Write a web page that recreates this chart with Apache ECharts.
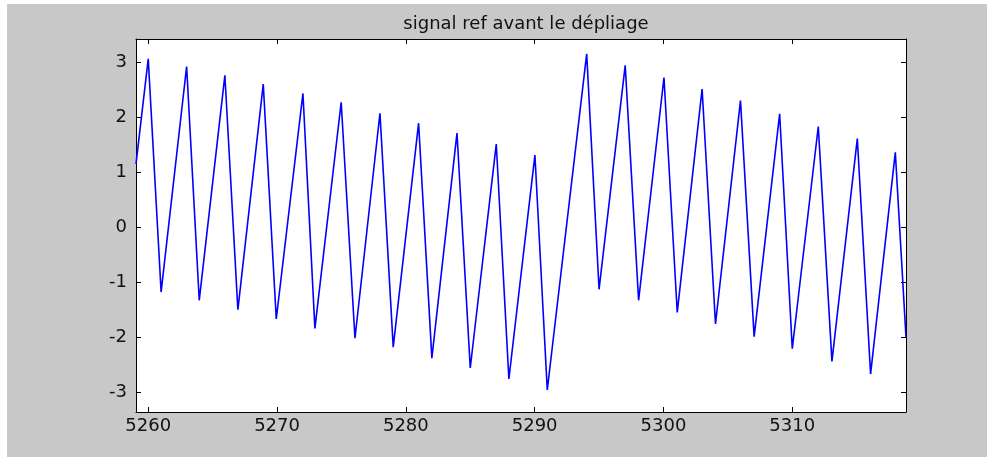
<!DOCTYPE html>
<html>
<head>
<meta charset="utf-8">
<script src="https://cdn.jsdelivr.net/npm/echarts@6/dist/echarts.min.js"></script>
<style>
  html, body { margin: 0; padding: 0; background: #fff; }
  #wrap { position: relative; width: 987px; height: 458px; background: #fff; }
  #panel { position: absolute; left: 7px; top: 4px; width: 980px; height: 453px; background: #c8c8c8; }
  #chart { position: absolute; left: 0; top: 0; width: 987px; height: 458px; }
</style>
</head>
<body>
<div id="wrap">
  <div id="panel"></div>
  <div id="chart"></div>
</div>
<script>
// signal ref: sommets et creux
const xs = [5259.05, 5260.0, 5261.0, 5262.98, 5263.96, 5265.95, 5266.96, 5268.93, 5269.94,
  5272.01, 5272.94, 5274.98, 5276.05, 5277.99, 5279.02, 5280.99, 5282.02, 5283.97, 5285.0,
  5287.02, 5288.0, 5290.02, 5290.98, 5294.04, 5295.0, 5297.03, 5298.07, 5300.04, 5301.07,
  5303.0, 5304.04, 5305.98, 5307.04, 5309.02, 5310.0, 5312.02, 5313.08, 5315.05, 5316.08,
  5318.0, 5318.83];
const ys = [1.15, 3.06, -1.18, 2.92, -1.33, 2.76, -1.50, 2.60, -1.67,
  2.43, -1.84, 2.27, -2.02, 2.07, -2.18, 1.89, -2.38, 1.71, -2.56,
  1.51, -2.76, 1.31, -2.96, 3.15, -1.13, 2.94, -1.33, 2.72, -1.55,
  2.51, -1.76, 2.30, -1.99, 2.06, -2.21, 1.83, -2.44, 1.61, -2.67,
  1.36, -2.0];
const xRange = [5259.05, 5318.83];
const yRange = [-3.36, 3.42];
const title = "signal ref avant le dépliage";

const font = "DejaVu Sans";
const chart = echarts.init(document.getElementById("chart"));

const boxAxis = (extra) => Object.assign({
  type: "value",
  axisLine: { show: true, onZero: false, lineStyle: { color: "#000", width: 1 } },
  axisTick: { show: true, inside: true, length: 5, lineStyle: { color: "#000" } },
  splitLine: { show: false },
}, extra);

const option = {
  animation: false,
  title: {
    text: title,
    left: 521,
    top: 10,
    textAlign: "center",
    textStyle: { fontFamily: font, fontSize: 18, fontWeight: "normal", color: "#111" },
  },
  grid: {
    left: 136, top: 39, right: 81, bottom: 46,
    show: true, backgroundColor: "#fff", borderWidth: 0,
  },
  xAxis: [
    boxAxis({
      position: "bottom",
      min: xRange[0], max: xRange[1],
      minInterval: 10, maxInterval: 10,
      axisLabel: {
        margin: 5, color: "#111", fontFamily: font, fontSize: 18,
        formatter: (v) => (Math.abs(v % 10) < 1e-6 ? String(v) : ""),
      },
    }),
    boxAxis({
      position: "top",
      min: xRange[0], max: xRange[1],
      minInterval: 10, maxInterval: 10,
      axisLabel: { show: false },
    }),
  ],
  yAxis: [
    boxAxis({
      position: "left",
      min: yRange[0], max: yRange[1],
      minInterval: 1, maxInterval: 1,
      axisLabel: {
        margin: 9, color: "#111", fontFamily: font, fontSize: 18,
        formatter: (v) => (Math.abs(v - Math.round(v)) < 1e-6 ? String(Math.round(v)) : ""),
      },
    }),
    boxAxis({
      position: "right",
      min: yRange[0], max: yRange[1],
      minInterval: 1, maxInterval: 1,
      axisLabel: { show: false },
    }),
  ],
  series: [
    {
      type: "line",
      xAxisIndex: 0,
      yAxisIndex: 0,
      data: xs.map((x, i) => [x, ys[i]]),
      showSymbol: false,
      symbol: "none",
      clip: true,
      lineStyle: { color: "#0000ff", width: 1.6 },
    },
  ],
};

chart.setOption(option);
</script>
</body>
</html>
